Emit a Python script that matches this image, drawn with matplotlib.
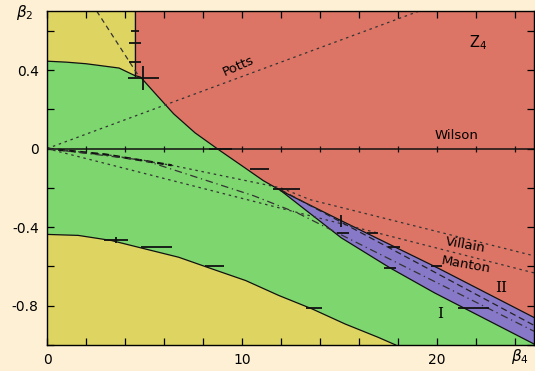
import numpy as np
import matplotlib
matplotlib.use("Agg")
import matplotlib.pyplot as plt

# phase boundaries (beta4, beta2)
top_x = [0, 1, 2, 2.7, 3.7, 4.5]
top_y = [0.445, 0.44, 0.432, 0.423, 0.41, 0.372]

z4_x = [4.5, 4.8, 5.65, 6.5, 7.6, 8.8, 10.1, 11.1, 12.0]
z4_y = [0.372, 0.364, 0.270, 0.177, 0.08, -0.005, -0.094, -0.163, -0.214]

band_hi_x = [12.0, 15.1, 20.1, 25]
band_hi_y = [-0.214, -0.367, -0.61, -0.86]
band_lo_x = [12.0, 15.1, 17.6, 19.9, 25]
band_lo_y = [-0.214, -0.454, -0.607, -0.735, -0.995]

low_x = [0, 1.6, 3.3, 5.0, 6.75, 8.45, 10.2, 11.9, 13.6, 15.3, 17.0, 17.9]
low_y = [-0.437, -0.442, -0.468, -0.51, -0.553, -0.612, -0.672, -0.748, -0.816, -0.893, -0.961, -1.0]

# reference lines
potts_x = [0, 19.1]
potts_y = [0, 0.7]
villain_x = [0, 3, 6.4, 12.0, 13.5, 25]
villain_y = [0, -0.03, -0.085, -0.2, -0.26, -0.546]
manton_x = [0, 25]
manton_y = [0, -0.633]
dashdot_x = [0, 5, 10.6, 12.9, 25]
dashdot_y = [0, -0.06, -0.24, -0.33, -0.93]
inband_x = [12.0, 25]
inband_y = [-0.21, -0.9]
corner_x = [2.55, 4.7]
corner_y = [0.7, 0.37]

# error bar points: x, y, xerr, yerr
err_x = [4.5, 4.5, 4.5, 4.95, 8.9, 10.9, 12.3, 15.1, 15.2, 16.7, 17.8, 20.0, 21.9, 17.6,
         3.55, 5.6, 8.6, 13.7]
err_y = [0.6, 0.54, 0.44, 0.36, 0.0, -0.105, -0.205, -0.367, -0.43, -0.43, -0.5, -0.6, -0.81, -0.607,
         -0.465, -0.5, -0.6, -0.81]
err_dx = [0.2, 0.3, 0.3, 0.8, 0.6, 0.5, 0.7, 0.0, 0.3, 0.3, 0.3, 0.3, 0.8, 0.3,
          0.6, 0.8, 0.5, 0.4]
err_dy = [0.0, 0.0, 0.0, 0.06, 0.0, 0.0, 0.0, 0.03, 0.0, 0.0, 0.0, 0.0, 0.0, 0.0,
          0.015, 0.0, 0.0, 0.0]

wilson_ticks = [2, 4, 6, 8, 10, 12, 14, 16, 18, 20, 22, 24]

XMIN, XMAX, YMIN, YMAX = 0, 25, -1.0, 0.7

bg = "#fdf0d4"
red = "#dc7565"
green = "#7dd66e"
yellow = "#ddd462"
purple = "#8878c8"

fig = plt.figure(figsize=(5.35, 3.71), dpi=100, facecolor=bg)
ax = fig.add_axes([0.0879, 0.0701, 0.9103, 0.9])
ax.set_facecolor(green)

# yellow top-left
px = list(top_x) + [4.5, 0]
py = list(top_y) + [YMAX, YMAX]
ax.fill(px, py, color=yellow, lw=0)

# red Z4 region
rx = [4.5, XMAX, XMAX] + band_hi_x[::-1] + z4_x[::-1][1:]
ry = [YMAX, YMAX, band_hi_y[-1]] + band_hi_y[::-1] + z4_y[::-1][1:]
ax.fill(rx, ry, color=red, lw=0)

# purple band
bx = band_hi_x + band_lo_x[::-1]
by = band_hi_y + band_lo_y[::-1]
ax.fill(bx, by, color=purple, lw=0)

# yellow bottom
ax.fill(low_x + [0], low_y + [YMIN], color=yellow, lw=0)

k = "#111111"
ax.plot(top_x, top_y, color=k, lw=0.9)
ax.plot(z4_x, z4_y, color=k, lw=0.9)
ax.plot([4.5, 4.5], [0.372, YMAX], color=k, lw=0.9)
ax.plot(band_hi_x, band_hi_y, color=k, lw=0.9)
ax.plot(band_lo_x, band_lo_y, color=k, lw=0.9)
ax.plot(low_x, low_y, color=k, lw=0.9)

# Wilson line with its little ticks
ax.plot([XMIN, XMAX], [0, 0], color=k, lw=1.1)
ax.plot(wilson_ticks, [0] * len(wilson_ticks), ls="none", marker="|", ms=5, color=k, mew=0.9)

ax.plot(potts_x, potts_y, color="#333333", lw=0.9, ls=(0, (2, 3)))
ax.plot(villain_x, villain_y, color="#333333", lw=0.9, ls=(0, (2, 3)))
ax.plot(villain_x[:3], villain_y[:3], color=k, lw=1.6, ls=(0, (3, 2)))
ax.plot(manton_x, manton_y, color="#333333", lw=0.9, ls=(0, (2, 3)))
ax.plot(dashdot_x, dashdot_y, color="#333333", lw=0.9, ls=(0, (6, 3, 1, 3)))
ax.plot(inband_x, inband_y, color="#222222", lw=0.9, ls=(0, (5, 3)))
ax.plot(corner_x, corner_y, color="#333333", lw=0.9, ls=(0, (4, 3)))

ax.errorbar(err_x, err_y, xerr=err_dx, yerr=err_dy, fmt="none", ecolor=k, elinewidth=1.3, capsize=0)

fs = 9.5
ax.text(9.8, 0.42, "Potts", rotation=24, fontsize=fs, ha="center", va="center")
ax.text(21.0, 0.066, "Wilson", fontsize=fs, ha="center", va="center")
ax.text(22.1, 0.54, r"$\mathrm{Z}_4$", fontsize=10.5, ha="center", va="center")
ax.text(21.5, -0.49, "Villain", rotation=-10, fontsize=fs, ha="center", va="center")
ax.text(21.5, -0.59, "Manton", rotation=-10, fontsize=fs, ha="center", va="center")
ax.text(20.2, -0.84, "I", fontsize=11, ha="center", va="center", family="DejaVu Serif")
ax.text(23.3, -0.71, "II", fontsize=11, ha="center", va="center", family="DejaVu Serif")

fig.text(0.047, 0.965, r"$\beta_2$", fontsize=11, ha="center", va="center")
fig.text(0.972, 0.038, r"$\beta_4$", fontsize=11, ha="center", va="center")

ax.set_xlim(XMIN, XMAX)
ax.set_ylim(YMIN, YMAX)
ax.set_xticks([0, 10, 20])
ax.set_xticklabels(["0", "10", "20"])
ax.set_xticks(np.arange(2, 25, 2), minor=True)
ax.set_yticks([-0.8, -0.4, 0, 0.4])
ax.set_yticklabels(["-0.8", "-0.4", "0", "0.4"])
ax.set_yticks(np.arange(-1.0, 0.71, 0.2), minor=True)
ax.tick_params(which="both", direction="in", top=True, right=True, length=5, width=0.9,
               labelsize=10, pad=6)
for s in ax.spines.values():
    s.set_linewidth(1.0)

fig.savefig("out.png", dpi=100, facecolor=bg)
